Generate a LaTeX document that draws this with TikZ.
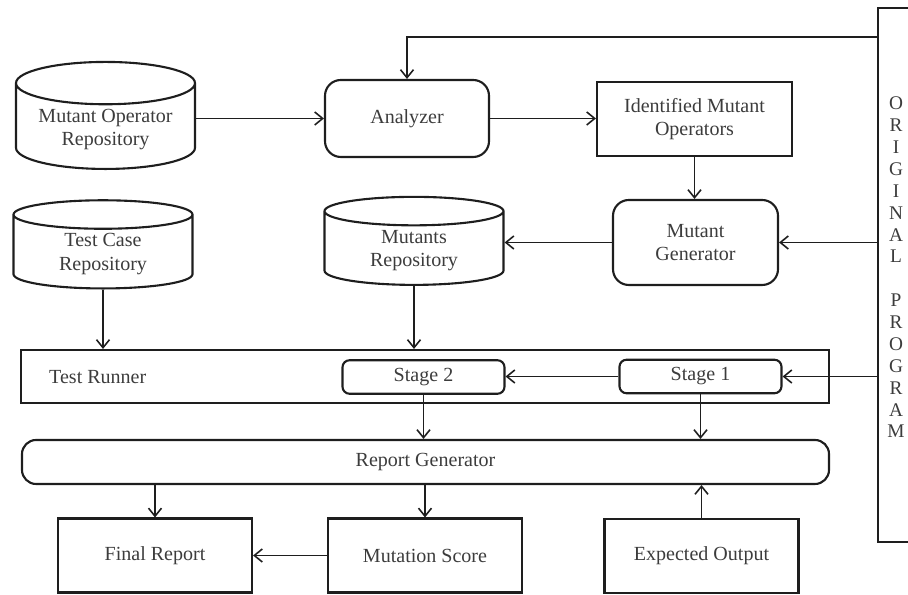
\documentclass[tikz,border=0pt]{standalone}
\usepackage{fontspec}
\setmainfont{Liberation Serif}
\usepackage{tikz}
\usetikzlibrary{arrows.meta,positioning,shapes.geometric,calc}
\definecolor{inkline}{HTML}{1E1E1E}
\definecolor{inktext}{HTML}{3C3C3C}

\begin{document}
\begin{tikzpicture}[
  font=\fontsize{11.4}{13.5}\selectfont,
  box/.style={draw=inkline, line width=1.2pt, align=center, text=inktext, inner sep=2pt},
  roundbox/.style={box, rounded corners=9pt},
  stagebox/.style={box, rounded corners=4pt, minimum width=3.24cm, minimum height=0.67cm},
  outbox/.style={box, minimum width=3.88cm, minimum height=1.48cm},
  repo/.style={box, cylinder, shape border rotate=90, aspect=0.3, minimum width=3.58cm, minimum height=1.76cm},
  arr/.style={-{Straight Barb[length=1.6mm, width=2.6mm]}, line width=0.9pt, draw=inkline},
]
\useasboundingbox (0,0) rectangle (18.16,11.9);
% repositories and top row
\node[repo] (mor) at (2.11, 9.31) {Mutant Operator\\Repository};
\node[roundbox, minimum width=3.28cm, minimum height=1.54cm] (ana) at (8.14, 9.53) {Analyzer};
\node[box, minimum width=3.9cm, minimum height=1.48cm] (ide) at (13.89, 9.52) {Identified Mutant\\Operators};
\node[repo] (tcr) at (2.06, 6.82) {Test Case\\Repository};
\node[repo] (mr) at (8.28, 6.89) {Mutants\\Repository};
\node[roundbox, minimum width=3.3cm, minimum height=1.7cm] (gen) at (13.91, 7.05) {Mutant\\Generator};
% original program column
\node[box, minimum width=0.72cm, minimum height=10.68cm] (orig) at (17.92, 6.4) {};
\node[text=inktext, align=center, font=\fontsize{11}{12.45}\selectfont] (origtxt) at (17.92, 6.55)
  {O\\R\\I\\G\\I\\N\\A\\L\\[12.45pt]P\\R\\O\\G\\R\\A\\M};
% test runner
\node[box, minimum width=16.16cm, minimum height=1.06cm] (run) at (8.5, 4.37) {};
\node[text=inktext, anchor=west] (runlbl) at (0.86, 4.35) {Test Runner};
\node[stagebox] (st2) at (8.47, 4.36) {Stage 2};
\node[stagebox] (st1) at (14.01, 4.37) {Stage 1};
% reports
\node[box, rounded corners=8pt, minimum width=16.14cm, minimum height=0.88cm] (rep) at (8.51, 2.66) {Report Generator};
\node[outbox] (fin) at (3.1, 0.79) {Final Report};
\node[outbox] (ms) at (8.5, 0.79) {Mutation Score};
\node[outbox] (exp) at (14.03, 0.78) {Expected Output};

\draw[arr] (mor.east |- ana.west) -- (ana.west);
\draw[arr] (ana.east) -- (ide.west |- ana.east);
\draw[arr] (orig.west |- 0,11.16) -| (ana.north);
\draw[arr] (ide.south) -- (ide.south |- gen.north);
\draw[arr] (orig.west |- gen.east) -- (gen.east);
\draw[arr] (gen.west) -- (mr.east |- gen.west);
\draw[arr] (tcr.south) -- (tcr.south |- run.north);
\draw[arr] (mr.south) -- (mr.south |- run.north);
\draw[arr] (orig.west |- st1.east) -- (st1.east);
\draw[arr] (st1.west) -- (st2.east |- st1.west);
\draw[arr] (st2.south) -- (st2.south |- rep.north);
\draw[arr] (st1.south) -- (st1.south |- rep.north);
\draw[arr] (fin.north |- rep.south) -- (fin.north);
\draw[arr] (ms.north |- rep.south) -- (ms.north);
\draw[arr] (ms.west) -- (fin.east |- ms.west);
\draw[arr] (exp.north) -- (exp.north |- rep.south);
\end{tikzpicture}
\end{document}
